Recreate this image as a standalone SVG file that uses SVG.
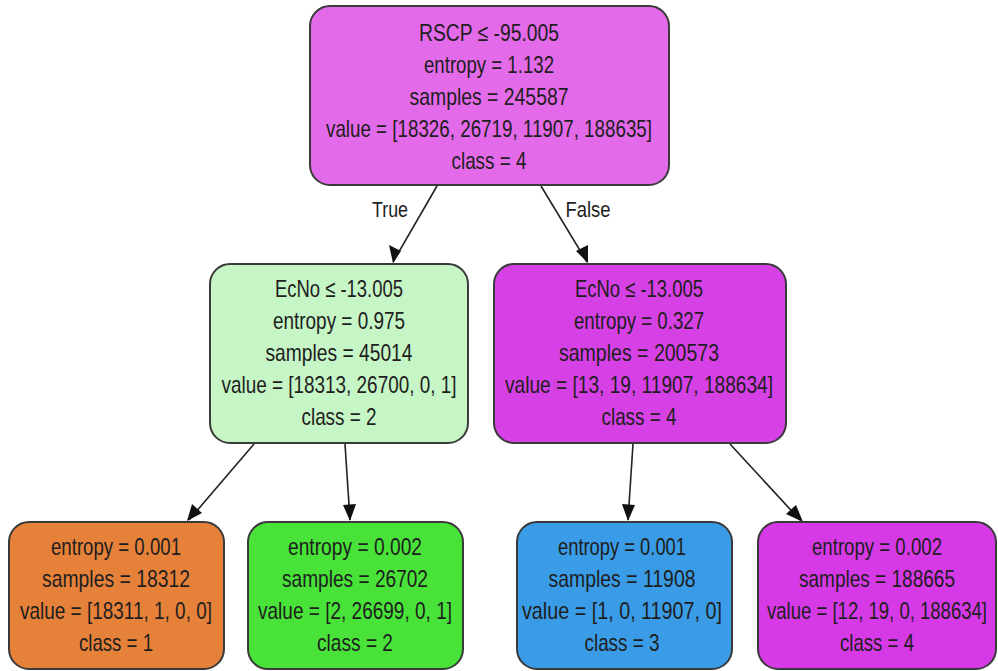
<svg xmlns="http://www.w3.org/2000/svg" width="998" height="671" viewBox="0 0 998 671">
  <style>
    .node rect { stroke: #3a3a3a; stroke-width: 2; }
    text { font-family: "Liberation Sans", Arial, sans-serif; font-size: 24px; fill: #1e1e1e; text-anchor: middle; }
    .edge { stroke: #222; stroke-width: 1.6; fill: none; }
    .head { fill: #111; }
    .lbl { font-size: 22px; }
  </style>
  <rect width="998" height="671" fill="#ffffff"/>

  <!-- connectors -->
  <g id="edges">
    <line class="edge" x1="437" y1="186" x2="393" y2="262"/>
    <path class="head" d="M393,263 L389,245 L401,251 z"/>
    <line class="edge" x1="541" y1="186" x2="587" y2="262"/>
    <path class="head" d="M588,263 L576,251 L588,245 z"/>
    <text class="lbl" x="390" y="217" textLength="36" lengthAdjust="spacingAndGlyphs">True</text>
    <text class="lbl" x="588" y="217" textLength="45" lengthAdjust="spacingAndGlyphs">False</text>

    <line class="edge" x1="254" y1="444" x2="189" y2="520"/>
    <path class="head" d="M187,521 L192,504 L202,513 z"/>
    <line class="edge" x1="345" y1="444" x2="350" y2="520"/>
    <path class="head" d="M350,521 L343,505 L356,504 z"/>
    <line class="edge" x1="633" y1="444" x2="628" y2="520"/>
    <path class="head" d="M628,521 L622,504 L635,505 z"/>
    <line class="edge" x1="730" y1="444" x2="800" y2="520"/>
    <path class="head" d="M803,522 L786,514 L796,505 z"/>
  </g>

  <!-- root split -->
  <g id="root" class="node">
    <rect x="310" y="6" width="359" height="179" rx="20" fill="#e36ae9"/>
    <text x="489" y="41" textLength="140" lengthAdjust="spacingAndGlyphs">RSCP ≤ -95.005</text>
    <text x="489" y="73" textLength="130" lengthAdjust="spacingAndGlyphs">entropy = 1.132</text>
    <text x="489" y="105" textLength="159" lengthAdjust="spacingAndGlyphs">samples = 245587</text>
    <text x="489" y="137" textLength="326" lengthAdjust="spacingAndGlyphs">value = [18326, 26719, 11907, 188635]</text>
    <text x="489" y="169" textLength="75" lengthAdjust="spacingAndGlyphs">class = 4</text>
  </g>

  <!-- left split -->
  <g id="left" class="node">
    <rect x="210" y="264" width="258" height="179" rx="20" fill="#c6f5c6"/>
    <text x="339" y="297" textLength="128" lengthAdjust="spacingAndGlyphs">EcNo ≤ -13.005</text>
    <text x="339" y="329" textLength="132" lengthAdjust="spacingAndGlyphs">entropy = 0.975</text>
    <text x="339" y="361" textLength="147" lengthAdjust="spacingAndGlyphs">samples = 45014</text>
    <text x="339" y="393" textLength="235" lengthAdjust="spacingAndGlyphs">value = [18313, 26700, 0, 1]</text>
    <text x="339" y="425" textLength="75" lengthAdjust="spacingAndGlyphs">class = 2</text>
  </g>

  <!-- right split -->
  <g id="right" class="node">
    <rect x="494" y="264" width="292" height="179" rx="20" fill="#d641e5"/>
    <text x="639" y="297" textLength="128" lengthAdjust="spacingAndGlyphs">EcNo ≤ -13.005</text>
    <text x="639" y="329" textLength="130" lengthAdjust="spacingAndGlyphs">entropy = 0.327</text>
    <text x="639" y="361" textLength="160" lengthAdjust="spacingAndGlyphs">samples = 200573</text>
    <text x="639" y="393" textLength="268" lengthAdjust="spacingAndGlyphs">value = [13, 19, 11907, 188634]</text>
    <text x="639" y="425" textLength="75" lengthAdjust="spacingAndGlyphs">class = 4</text>
  </g>

  <!-- leaves -->
  <g id="leaf1" class="node">
    <rect x="9" y="522" width="215" height="147" rx="20" fill="#e6813a"/>
    <text x="116" y="555" textLength="130" lengthAdjust="spacingAndGlyphs">entropy = 0.001</text>
    <text x="116" y="587" textLength="148" lengthAdjust="spacingAndGlyphs">samples = 18312</text>
    <text x="116" y="619" textLength="192" lengthAdjust="spacingAndGlyphs">value = [18311, 1, 0, 0]</text>
    <text x="116" y="651" textLength="74" lengthAdjust="spacingAndGlyphs">class = 1</text>
  </g>

  <g id="leaf2" class="node">
    <rect x="248" y="522" width="215" height="147" rx="20" fill="#48e239"/>
    <text x="355" y="555" textLength="134" lengthAdjust="spacingAndGlyphs">entropy = 0.002</text>
    <text x="355" y="587" textLength="146" lengthAdjust="spacingAndGlyphs">samples = 26702</text>
    <text x="355" y="619" textLength="194" lengthAdjust="spacingAndGlyphs">value = [2, 26699, 0, 1]</text>
    <text x="355" y="651" textLength="76" lengthAdjust="spacingAndGlyphs">class = 2</text>
  </g>

  <g id="leaf3" class="node">
    <rect x="517" y="522" width="215" height="147" rx="20" fill="#3a9ce6"/>
    <text x="622" y="555" textLength="128" lengthAdjust="spacingAndGlyphs">entropy = 0.001</text>
    <text x="622" y="587" textLength="147" lengthAdjust="spacingAndGlyphs">samples = 11908</text>
    <text x="622" y="619" textLength="200" lengthAdjust="spacingAndGlyphs">value = [1, 0, 11907, 0]</text>
    <text x="622" y="651" textLength="75" lengthAdjust="spacingAndGlyphs">class = 3</text>
  </g>

  <g id="leaf4" class="node">
    <rect x="758" y="522" width="238" height="147" rx="20" fill="#d63ae6"/>
    <text x="877" y="555" textLength="130" lengthAdjust="spacingAndGlyphs">entropy = 0.002</text>
    <text x="877" y="587" textLength="156" lengthAdjust="spacingAndGlyphs">samples = 188665</text>
    <text x="877" y="619" textLength="220" lengthAdjust="spacingAndGlyphs">value = [12, 19, 0, 188634]</text>
    <text x="877" y="651" textLength="74" lengthAdjust="spacingAndGlyphs">class = 4</text>
  </g>
</svg>
